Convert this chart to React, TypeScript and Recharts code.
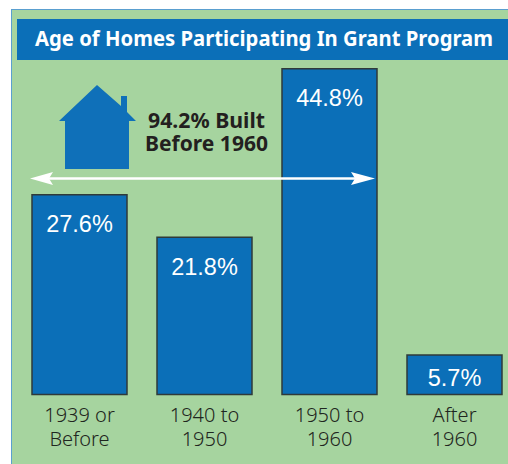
import { BarChart, Bar, XAxis, YAxis, LabelList } from "recharts";

const categories = ["1939 or|Before", "1940 to|1950", "1950 to|1960", "After|1960"];
const shares = [27.6, 21.8, 44.8, 5.7];

const data = categories.map((name, i) => ({ name, share: shares[i] }));

const BLUE = "#0b6fb8";
const GREEN = "#a6d49f";

function YearTick({ x, y, payload }: any) {
  const lines = String(payload.value).split("|");
  return (
    <text x={x} textAnchor="middle" fontFamily="'Noto Sans'" fontWeight={300} fontSize={20} fill="#1f2620">
      {lines.map((line, i) => (
        <tspan key={line} x={x} y={y + 19.5 + i * 24}>
          {line}
        </tspan>
      ))}
    </text>
  );
}

function ShareLabel({ x, y, width, height, value }: any) {
  // the short bar has its label closer to the top edge
  const dy = height < 60 ? 31 : 37.5;
  return (
    <text
      x={x + width / 2}
      y={y + dy}
      textAnchor="middle"
      fontFamily="'Liberation Sans'"
      fontSize={23.5}
      fill="#fff"
    >
      {value}%
    </text>
  );
}

export default function App() {
  return (
    <div style={{ position: "relative", width: 508, height: 464, overflow: "hidden", background: "#fff" }}>
      <style>{"body{margin:0}"}</style>
      <div
        style={{
          position: "absolute",
          left: 11,
          top: 9,
          width: 520,
          height: 480,
          background: GREEN,
          borderLeft: "1.5px solid #5a9fd0",
          borderTop: "1.5px solid #5a9fd0",
          boxSizing: "border-box",
        }}
      />
      <div style={{ position: "absolute", left: 0, top: 0 }}>
        <BarChart
          width={520}
          height={464}
          data={data}
          margin={{ top: 60, right: 3, bottom: 0, left: 17 }}
        >
          <XAxis
            dataKey="name"
            axisLine={false}
            tickLine={false}
            tick={<YearTick />}
            interval={0}
            height={69.5}
          />
          <YAxis hide domain={[0.3, 46]} />
          <Bar
            dataKey="share"
            barSize={95}
            fill={BLUE}
            stroke="#2f3a3a"
            strokeWidth={1.5}
            isAnimationActive={false}
          >
            <LabelList dataKey="share" content={<ShareLabel />} />
          </Bar>
        </BarChart>
      </div>
      <svg width={508} height={464} style={{ position: "absolute", left: 0, top: 0 }}>
        <rect x={17} y={19} width={491} height={41} fill={BLUE} />
        <text
          x={35}
          y={46}
          textLength={458}
          lengthAdjust="spacingAndGlyphs"
          fontFamily="'Noto Sans'"
          fontWeight={700}
          fontSize={22}
          fill="#fff"
        >
          Age of Homes Participating In Grant Program
        </text>
        <polygon
          points="59,121 65,121 65,169 129,169 129,121 136,121 127,112 127,96 121,96 121,106 97,85"
          fill="#0f70b9"
        />
        <g fontFamily="'Noto Sans'" fontWeight={700} fontSize={22} fill="#231f20" textAnchor="middle">
          <text x={206.5} y={128} textLength={117} lengthAdjust="spacingAndGlyphs">
            94.2% Built
          </text>
          <text x={206.5} y={151} textLength={123} lengthAdjust="spacingAndGlyphs">
            Before 1960
          </text>
        </g>
        <line x1={45} y1={178.5} x2={360} y2={178.5} stroke="#fff" strokeWidth={2.5} />
        <polygon points="30,178.5 53,172 49,178.5 53,185" fill="#fff" />
        <polygon points="375,178.5 351,172 355,178.5 351,185" fill="#fff" />
      </svg>
    </div>
  );
}
